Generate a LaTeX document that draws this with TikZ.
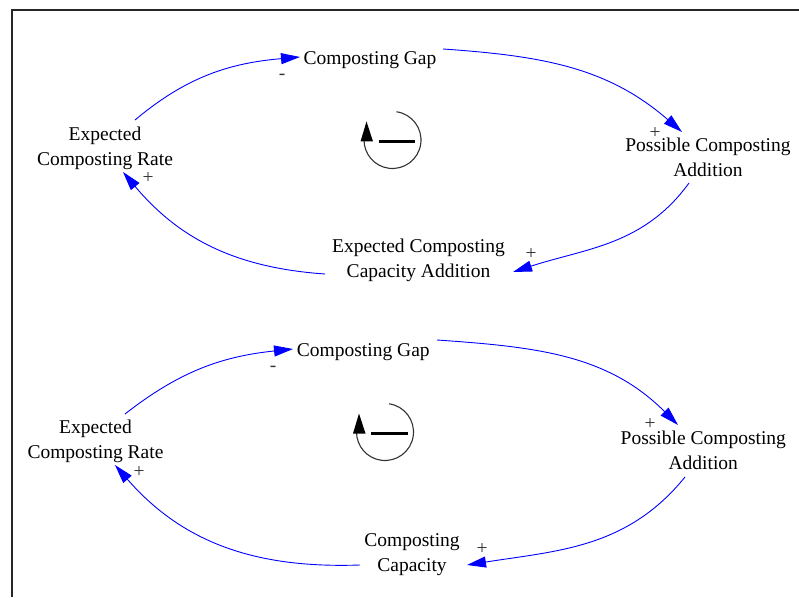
\documentclass[tikz,border=0pt]{standalone}
\usepackage{fontspec}
\setmainfont{Liberation Serif}
\usetikzlibrary{arrows.meta}
\begin{document}
\begin{tikzpicture}[x=1pt,y=1pt,
  var/.style={align=center, font=\fontsize{19.5}{25}\selectfont, inner sep=0pt, text=black},
  sign/.style={font=\fontsize{19.5}{25}\selectfont, inner sep=0pt, text=black!80},
  link/.style={draw=blue, line width=0.9pt, -{Triangle[length=19pt,width=11pt]}},
  frame/.style={draw=black!85, line width=1.2pt},
  loopsym/.pic={
    \draw[black!80, line width=1.1pt] (82:28.5) arc[start angle=82, end angle=-180, radius=28.5];
    \fill[black] (-32,-1.5) -- (-19.5,-1.5) -- (-26,18.5) -- cycle;
    \draw[black, line width=2.6pt] (-14,-1.7) -- (22.5,-1.7);
  }]
\fill[white] (0,0) rectangle (799,597);
\useasboundingbox (0,0) rectangle (799,597);
\draw[frame] (12,0) -- (12,587) -- (799,587);

% upper loop
\node[var] (gap1)  at (370,537)   {Composting Gap};
\node[var] (ecr1)  at (105,449)   {Expected\\Composting Rate};
\node[var] (pca1)  at (708,439.5) {Possible Composting\\Addition};
\node[var] (ecca1) at (418.5,337) {Expected Composting\\Capacity Addition};
\pic (loop1) at (392.5,457) {loopsym};

\draw[link] ([shift={(30,28)}]ecr1.center) to[out=40,in=185] ([shift={(-70,3)}]gap1.center);
\draw[link] ([shift={(73,11)}]gap1.center) to[out=-4,in=139] ([shift={(-26,25.5)}]pca1.center);
\draw[link] ([shift={(-19,-25.5)}]pca1.center) to[out=234,in=18] ([shift={(94.5,-12)}]ecca1.center);
\draw[link] ([shift={(-93.5,-14)}]ecca1.center) to[out=176,in=310] ([shift={(18,-24)}]ecr1.center);

\node[sign] (s1) at (282,520) {-};
\node[sign] (s2) at (655,464) {+};
\node[sign] (s3) at (531,343) {+};
\node[sign] (s4) at (148,419) {+};

% lower loop
\node[var] (gap2) at (363.3,245) {Composting Gap};
\node[var] (ecr2) at (95.5,156)  {Expected\\Composting Rate};
\node[var] (pca2) at (703.3,147) {Possible Composting\\Addition};
\node[var] (cap2) at (412,42)    {Composting\\Capacity};
\pic (loop2) at (385,165) {loopsym};

\draw[link] ([shift={(29.5,27)}]ecr2.center) to[out=38,in=186] ([shift={(-70.3,3)}]gap2.center);
\draw[link] ([shift={(73.7,12)}]gap2.center) to[out=-4,in=135] ([shift={(-25.3,25)}]pca2.center);
\draw[link] ([shift={(-18.3,-27)}]pca2.center) to[out=231,in=9] ([shift={(55,-10)}]cap2.center);
\draw[link] ([shift={(-52,-10)}]cap2.center) to[out=182,in=311] ([shift={(19.5,-24)}]ecr2.center);

\node[sign] (s5) at (273,228) {-};
\node[sign] (s6) at (650,173) {+};
\node[sign] (s7) at (482,48)  {+};
\node[sign] (s8) at (139,125) {+};
\end{tikzpicture}
\end{document}
